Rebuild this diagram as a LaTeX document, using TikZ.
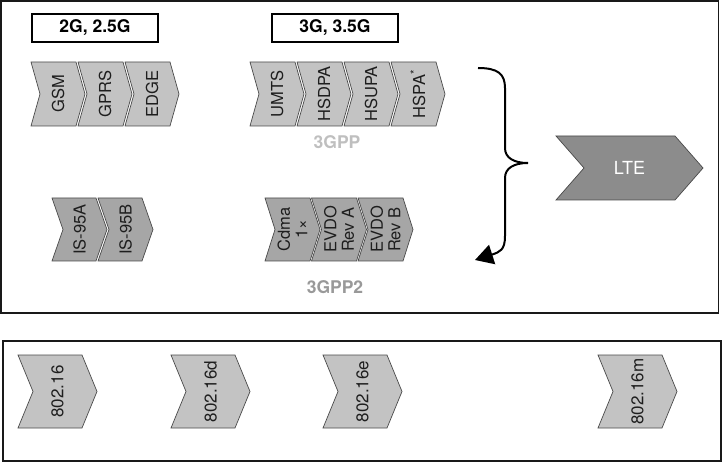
\documentclass[tikz,border=0pt]{standalone}
\usepackage{fontspec}
\setmainfont{TeX Gyre Heros}
\usetikzlibrary{arrows.meta}
\definecolor{chevlight}{HTML}{C3C3C3}
\definecolor{chevdark}{HTML}{A6A6A6}
\definecolor{ltefill}{HTML}{8C8C8C}
\definecolor{chevline}{HTML}{4A4A4A}
\definecolor{txtdark}{HTML}{1E1E1E}
\tikzset{
  chevshape/.style={draw=chevline, line width=0.7pt, line join=miter},
  chevtext/.style={rotate=90, align=center, inner sep=0pt, text=txtdark,
    font=\fontsize{16.5}{17.5}\selectfont},
  widetext/.style={chevtext, font=\fontsize{17}{19}\selectfont},
  outerbox/.style={draw=black!90, line width=1.3pt},
  labelbox/.style={draw=black, line width=1.1pt, minimum width=126pt, minimum height=28pt,
    inner sep=0pt, font=\bfseries\fontsize{17.5}{19}\selectfont},
  grouplabel/.style={inner sep=0pt, font=\bfseries\fontsize{17.5}{19}\selectfont},
  bracearrow/.style={draw=black, line width=2pt, -{Triangle[length=18pt,width=20pt]}}
}
% name, x0, y0, w, d, h, fill, text style, text
\newcommand\mychev[9]{%
  \draw[chevshape, fill=#7] (#2,#3) -- ++(#4,0) -- ++(#5,#6/2) -- ++(-#5,#6/2)
     -- ++(-#4,0) -- ++(#5,-#6/2) -- cycle;
  \node[#8] (#1) at ({#2+#4/2+#5/2},{#3+#6/2}) {#9};
}
\begin{document}
\begin{tikzpicture}[x=1pt,y=-1pt]
\useasboundingbox (0,0) rectangle (723,462);
% outer frames
\draw[outerbox] (1,1) rectangle (718.5,313);
\draw[outerbox] (3,341) rectangle (721,461);
% generation labels
\node[labelbox] (g2) at (95,28) {2G, 2.5G};
\node[labelbox] (g3) at (335,28) {3G, 3.5G};
% 2G row
\mychev{gsm}{31}{62}{45}{9}{64}{chevlight}{chevtext}{GSM}
\mychev{gprs}{78}{62}{45}{9}{64}{chevlight}{chevtext}{GPRS}
\mychev{edge}{125}{62}{45}{9}{64}{chevlight}{chevtext}{EDGE}
% 3G row
\mychev{umts}{250}{62}{45}{9}{64}{chevlight}{chevtext}{UMTS}
\mychev{hsdpa}{297}{62}{45}{9}{64}{chevlight}{chevtext}{HSDPA}
\mychev{hsupa}{344}{62}{45}{9}{64}{chevlight}{chevtext}{HSUPA}
\mychev{hspa}{391}{62}{45}{9}{64}{chevlight}{chevtext}{HSPA\textsuperscript{*}}
\node[grouplabel, text=black!25] (p3gpp) at (337,142) {3GPP};
% CDMA rows
\mychev{isa}{52}{198}{44}{11}{63}{chevdark}{chevtext}{IS-95A}
\mychev{isb}{98}{198}{44}{11}{63}{chevdark}{chevtext}{IS-95B}
\mychev{cdma}{265}{198}{45}{10}{63}{chevdark}{chevtext}{Cdma\\1×}
\mychev{evdoa}{311.5}{198}{45}{10}{63}{chevdark}{chevtext}{EVDO\\Rev A}
\mychev{evdob}{358}{198}{45}{10}{63}{chevdark}{chevtext}{EVDO\\Rev B}
\node[grouplabel, text=black!40] (p3gpp2) at (335,287) {3GPP2};
% brace with arrow
\coordinate (bs) at (478,68);
\coordinate (bcusp) at (528,163);
\coordinate (be) at (475,260);
\draw[bracearrow] (bs) .. controls (498,68) and (505,74) .. (505,88)
  -- (505,148) .. controls (505,158) and (514,163) .. (bcusp)
  .. controls (514,163) and (505,168) .. (505,178)
  -- (505,236) .. controls (505,250) and (500,252) .. (be);
% LTE
\draw[chevshape, fill=ltefill] (556,136) -- (675,136) -- (703,168) -- (675,200)
  -- (556,200) -- (584,168) -- cycle;
\node[inner sep=0pt, text=white, font=\fontsize{18}{20}\selectfont] (lte) at (629.5,168) {LTE};
% 802.16 row
\mychev{w0}{18}{355}{64}{15}{73}{chevlight}{widetext}{802.16}
\mychev{wd}{171}{355}{64}{15}{73}{chevlight}{widetext}{802.16d}
\mychev{we}{323}{355}{64}{15}{73}{chevlight}{widetext}{802.16e}
\mychev{wm}{598}{355}{64}{15}{73}{chevlight}{widetext}{802.16m}
\end{tikzpicture}
\end{document}
